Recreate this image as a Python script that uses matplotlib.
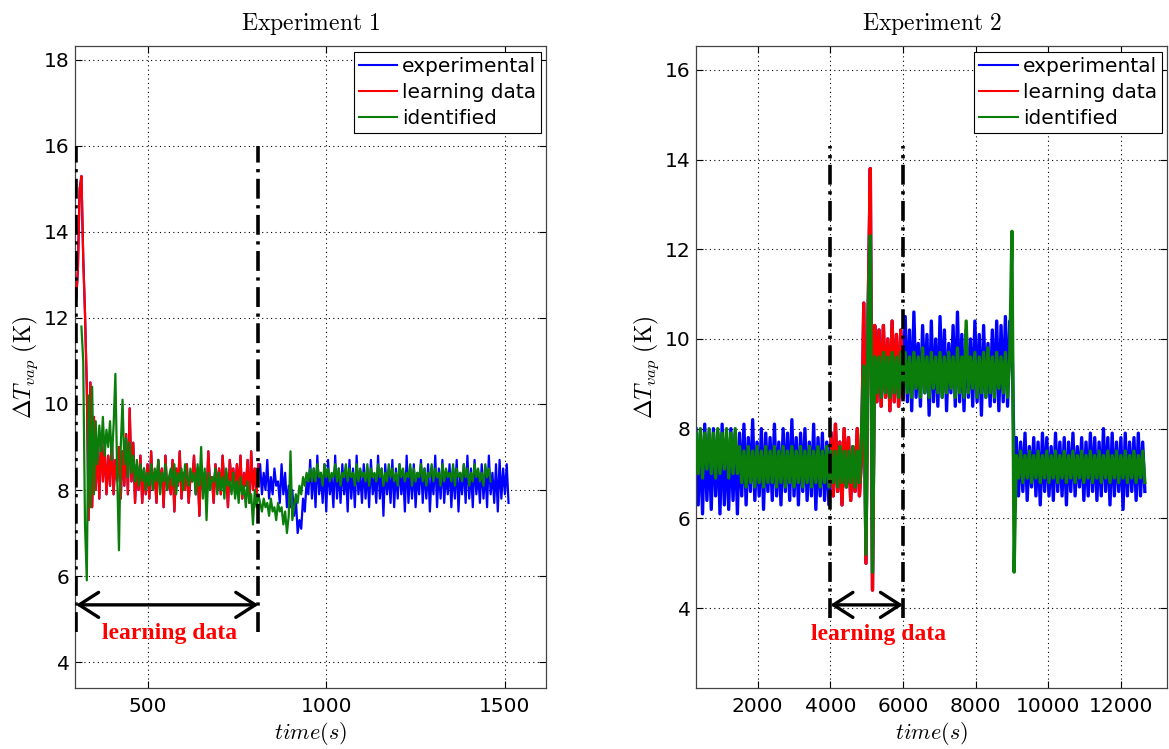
import numpy as np
import matplotlib
matplotlib.use("Agg")
import matplotlib.pyplot as plt
from matplotlib.lines import Line2D

plt.rcParams["mathtext.fontset"] = "cm"
plt.rcParams["font.family"] = "DejaVu Sans"

# ---------------- data ----------------
# Experiment 1: samples every 5 s
exp1_meas_start, exp1_step = 300, 5
exp1_meas = [
    12.4, 13.1, 15.0, 15.3, 13.4, 12.1, 10.4, 7.3, 10.5, 7.6,
    9.7, 8.0, 9.1, 7.8, 9.3, 8.2, 9.0, 7.9, 8.8, 8.1,
    9.2, 7.9, 8.7, 8.2, 9.0, 7.8, 8.9, 8.1, 9.3, 7.9,
    9.9, 8.2, 9.1, 7.7, 8.6, 8.0, 8.8, 7.7, 8.5, 7.9,
    8.6, 7.8, 8.9, 8.0, 8.4, 7.7, 8.7, 8.1, 8.5, 7.6,
    8.8, 8.0, 8.3, 7.9, 8.7, 7.5, 8.5, 8.1, 8.9, 7.8,
    8.4, 8.0, 8.6, 7.7, 8.3, 8.2, 8.8, 7.9, 8.5, 7.4,
    8.6, 8.0, 8.4, 7.8, 8.9, 8.1, 8.3, 7.7, 8.6, 8.0,
    8.5, 7.9, 8.8, 8.1, 8.4, 7.6, 8.7, 8.2, 8.5, 7.9,
    8.6, 8.0, 8.8, 7.8, 8.4, 8.1, 8.7, 7.7, 8.9, 8.0,
    8.5, 7.9, 8.6, 8.6, 7.9, 8.4, 8.0, 8.7, 7.8, 8.3,
    7.9, 8.5, 8.1, 8.2, 7.7, 8.6, 7.9, 8.4, 7.6, 8.1,
    7.6, 8.0, 7.4, 7.8, 7.0, 7.3, 7.1, 7.8, 7.5, 8.2,
    7.9, 8.7, 7.8, 8.5, 7.6, 8.8, 7.9, 8.4, 7.7, 8.6,
    7.5, 8.7, 7.9, 8.3, 7.6, 8.8, 7.8, 8.5, 7.7, 8.6,
    7.9, 8.4, 7.5, 8.7, 7.8, 8.5, 7.6, 8.8, 7.9, 8.4,
    7.7, 8.6, 7.8, 8.5, 7.6, 8.7, 7.9, 8.3, 7.7, 8.8,
    7.8, 8.5, 7.4, 8.6, 7.9, 8.4, 7.7, 8.7, 7.6, 8.5,
    7.8, 8.6, 7.9, 8.4, 7.5, 8.8, 7.7, 8.5, 7.8, 8.6,
    7.6, 8.4, 7.9, 8.7, 7.7, 8.5, 7.8, 8.6, 7.5, 8.4,
    7.9, 8.8, 7.6, 8.5, 7.8, 8.7, 7.7, 8.4, 7.9, 8.6,
    7.6, 8.5, 7.8, 8.7, 7.5, 8.4, 7.9, 8.6, 7.7, 8.8,
    7.8, 8.5, 7.6, 8.7, 7.9, 8.4, 7.7, 8.6, 7.8, 8.5,
    7.6, 8.8, 7.9, 8.4, 7.7, 8.6, 7.5, 8.7, 7.8, 8.5,
    7.9, 8.6, 7.7,
]
exp1_ident_start = 315
exp1_ident = [
    11.8, 11.0, 7.2, 5.9, 10.2, 7.6, 10.4, 7.9, 9.6, 8.6,
    9.5, 8.9, 9.7, 8.8, 9.4, 9.0, 9.6, 8.7, 9.5, 10.7,
    8.4, 6.6, 9.0, 10.1, 8.6, 9.2, 8.3, 9.1, 8.4, 8.8,
    8.2, 8.7, 8.1, 8.6, 8.2, 8.5, 8.0, 8.4, 8.1, 8.6,
    8.0, 8.5, 8.2, 8.7, 7.9, 8.4, 8.2, 8.6, 8.0, 8.3,
    8.5, 8.1, 8.6, 7.9, 8.4, 8.2, 8.5, 8.0, 8.6, 8.3,
    8.1, 8.5, 8.2, 8.4, 7.9, 8.6, 8.1, 9.0, 7.8, 8.5,
    7.3, 8.4, 8.0, 8.3, 8.2, 8.5, 7.9, 8.4, 8.0, 8.3,
    7.8, 8.5, 8.1, 8.2, 7.9, 8.4, 7.8, 8.2, 7.7, 8.3,
    7.9, 8.1, 7.6, 8.2, 7.7, 7.9, 7.2, 8.0, 7.6, 7.9,
    7.7, 7.5, 7.8, 7.6, 7.7, 7.4, 7.8, 7.5, 7.6, 7.3,
    7.7, 7.5, 7.6, 7.2, 7.5, 7.0, 7.4, 8.9, 7.3, 7.6,
    7.9, 7.7, 8.1, 7.9, 8.3, 8.1, 8.4, 8.2, 8.5, 8.2,
    8.5, 8.2, 8.6, 8.3, 8.4, 8.1, 8.6, 8.3, 8.5, 8.2,
    8.4, 8.3, 8.6, 8.2, 8.5, 8.1, 8.4, 8.3, 8.6, 8.2,
    8.5, 8.3, 8.4, 8.1, 8.6, 8.2, 8.5, 8.3, 8.4, 8.2,
    8.6, 8.1, 8.5, 8.3, 8.4, 8.2, 8.6, 8.3, 8.5, 8.1,
    8.4, 8.2, 8.6, 8.3, 8.5, 8.2, 8.4, 8.1, 8.6, 8.3,
    8.5, 8.2, 8.4, 8.3, 8.6, 8.1, 8.5, 8.2, 8.4, 8.3,
    8.6, 8.2, 8.5, 8.1, 8.4, 8.3, 8.6, 8.2, 8.5, 8.3,
    8.4, 8.1, 8.6, 8.2, 8.5, 8.3, 8.4, 8.2, 8.6, 8.1,
    8.5, 8.3, 8.4, 8.2, 8.6, 8.3, 8.5, 8.1, 8.4, 8.2,
    8.6, 8.3, 8.5, 8.2, 8.4, 8.1, 8.6, 8.3, 8.5, 8.2,
]
exp1_window = (300, 810)

# Experiment 2: samples every 60 s
exp2_start, exp2_step = 300, 60
exp2_meas = [
    8.0, 6.3, 7.9, 6.1, 8.1, 6.4, 7.8, 6.2, 8.0, 6.5,
    7.9, 6.1, 8.1, 6.3, 7.8, 6.2, 8.0, 6.4, 7.9, 6.1,
    7.9, 6.5, 8.1, 6.3, 7.8, 6.6, 8.2, 6.4, 7.7, 6.5,
    8.0, 6.2, 7.9, 6.6, 7.8, 6.4, 8.1, 6.5, 7.7, 6.3,
    8.0, 6.6, 7.9, 6.4, 8.2, 6.5, 7.8, 6.3, 7.9, 6.6,
    8.0, 6.4, 7.7, 6.5, 8.1, 6.2, 7.8, 6.5, 7.9, 6.4,
    7.7, 6.3, 7.9, 6.5, 8.1, 6.6, 7.7, 6.3, 8.0, 6.7,
    7.8, 6.4, 7.6, 6.6, 8.0, 6.5, 7.4, 10.8, 5.0, 10.6,
    13.8, 4.4, 10.3, 8.6, 10.2, 8.5, 10.3, 8.7, 10.0, 8.4,
    10.4, 8.6, 10.1, 8.5, 10.2, 8.7, 10.5, 8.6, 10.2, 8.4,
    10.6, 8.7, 9.9, 8.5, 10.3, 8.8, 10.1, 8.3, 10.4, 8.6,
    10.0, 8.5, 10.5, 8.7, 10.2, 8.4, 9.9, 8.8, 10.3, 8.5,
    10.6, 8.6, 10.1, 8.4, 10.2, 8.7, 10.0, 8.5, 10.4, 8.6,
    10.1, 8.3, 10.3, 8.7, 9.9, 8.5, 10.2, 8.6, 10.4, 8.4,
    10.3, 8.6, 10.5, 8.5, 10.4, 10.2, 7.2, 7.8, 6.5, 7.7,
    6.6, 7.9, 6.4, 7.6, 6.7, 7.8, 6.5, 7.7, 6.3, 7.9,
    6.6, 7.8, 6.5, 7.6, 6.4, 7.9, 6.6, 7.7, 6.5, 7.8,
    6.3, 7.7, 6.6, 7.9, 6.5, 7.6, 6.7, 7.8, 6.4, 7.7,
    6.5, 7.9, 6.6, 7.8, 6.4, 7.7, 6.5, 8.0, 6.6, 7.8,
    6.3, 7.9, 6.5, 7.7, 6.6, 7.8, 6.2, 7.9, 6.5, 7.7,
    6.6, 7.8, 6.4, 7.9, 6.5, 7.7, 6.6,
]
exp2_ident = [
    7.9, 7.0, 8.0, 6.9, 7.9, 7.1, 8.0, 7.0, 7.9, 6.9,
    8.0, 7.0, 7.9, 7.1, 8.0, 6.9, 7.9, 7.0, 8.0, 7.0,
    7.6, 6.8, 7.5, 6.7, 7.6, 6.8, 7.5, 6.7, 7.6, 6.8,
    7.5, 6.7, 7.6, 6.8, 7.5, 6.8, 7.6, 6.7, 7.5, 6.8,
    7.6, 6.7, 7.5, 6.8, 7.6, 6.7, 7.5, 6.8, 7.6, 6.7,
    7.5, 6.8, 7.6, 6.7, 7.5, 6.8, 7.6, 6.7, 7.5, 6.8,
    7.6, 6.7, 7.5, 6.8, 7.5, 6.7, 7.6, 6.8, 7.5, 6.7,
    7.5, 6.8, 7.6, 6.7, 7.5, 6.8, 8.0, 9.4, 5.2, 10.5,
    12.3, 4.8, 9.6, 8.8, 9.6, 8.7, 9.7, 8.8, 9.6, 8.7,
    9.7, 8.8, 9.6, 8.7, 9.7, 8.8, 9.7, 8.8, 9.6, 8.7,
    9.7, 8.9, 9.6, 8.7, 9.8, 8.8, 9.6, 8.7, 9.7, 8.9,
    9.6, 8.8, 9.7, 8.7, 9.6, 8.8, 9.7, 8.9, 9.6, 8.7,
    9.8, 8.8, 9.6, 8.7, 10.4, 8.8, 9.6, 8.9, 9.7, 8.7,
    9.6, 8.8, 9.7, 8.7, 9.8, 8.8, 9.6, 8.7, 9.7, 8.9,
    9.6, 8.8, 9.7, 8.7, 9.6, 12.4, 4.8, 7.4, 6.9, 7.5,
    6.8, 7.4, 6.9, 7.5, 6.8, 7.4, 6.9, 7.5, 6.8, 7.4,
    6.9, 7.5, 6.8, 7.4, 6.9, 7.5, 6.8, 7.4, 6.9, 7.5,
    6.8, 7.4, 6.9, 7.5, 6.8, 7.4, 6.9, 7.5, 6.8, 7.4,
    6.9, 7.5, 6.8, 7.4, 6.9, 7.5, 6.8, 7.4, 6.9, 7.5,
    6.8, 7.4, 6.9, 7.5, 6.8, 7.4, 6.9, 7.5, 6.8, 7.4,
    6.9, 7.5, 6.8, 7.4, 6.9, 7.5, 6.8,
]
exp2_window = (4000, 6000)

labels = ["experimental", "learning data", "identified"]
BLUE, RED, GREEN = "#0000ff", "#ff0000", "#0a7d0a"


def plot_panel(ax, t_meas, meas, t_id, ident, window, xlim, ylim, xticks, yticks,
               title, vtop, vbot, arrow_y, text_xy, lw):
    t_meas = np.asarray(t_meas); meas = np.asarray(meas)
    ax.plot(t_meas, meas, color=BLUE, lw=lw, zorder=2)
    m = (t_meas >= window[0] - 10) & (t_meas <= window[1] + 1)
    ax.plot(t_meas[m], meas[m], color=RED, lw=lw, zorder=3)
    ax.plot(t_id, ident, color=GREEN, lw=lw, zorder=4)

    for xv in window:
        ax.plot([xv, xv], [vbot, vtop], color="k", lw=2.6,
                linestyle=(0, (5.5, 1.8, 0.9, 1.8)), zorder=6)
    ax.annotate("", xy=(window[1], arrow_y), xytext=(window[0], arrow_y), zorder=7,
                arrowprops=dict(arrowstyle="<->,head_length=0.7,head_width=0.45",
                                color="k", lw=2.4, shrinkA=0, shrinkB=0,
                                mutation_scale=20))
    ax.text(text_xy[0], text_xy[1], "learning data", color=RED, fontsize=17,
            fontweight="bold", family="Liberation Serif", ha="center", va="center",
            zorder=8)

    ax.set_xlim(*xlim); ax.set_ylim(*ylim)
    ax.set_xticks(xticks); ax.set_yticks(yticks)
    ax.grid(True, color="k", lw=0.8, linestyle=(0, (1, 3)))
    ax.set_axisbelow(True)
    ax.tick_params(direction="in", top=True, right=True, length=5, width=0.8,
                   labelsize=14.5)
    ax.tick_params(axis="x", pad=6)
    ax.tick_params(axis="y", pad=4)
    for s in ax.spines.values():
        s.set_color("#444"); s.set_linewidth(0.9)
    ax.set_title(r"$\mathrm{" + title.replace(" ", r"\ ") + "}$", fontsize=17, pad=11)
    ax.set_xlabel(r"$time(s)$", fontsize=16, labelpad=3)
    ax.set_ylabel(r"$\Delta T_{vap}\ \mathrm{(K)}$", fontsize=17, labelpad=3)

    handles = [Line2D([], [], color=c, lw=1.5) for c in (BLUE, RED, GREEN)]
    leg = ax.legend(handles, labels, loc="upper right", bbox_to_anchor=(0.989, 0.99),
                    borderaxespad=0, fontsize=14.5, fancybox=False, framealpha=1,
                    edgecolor="k", handlelength=1.9, handletextpad=0.25,
                    labelspacing=0.35, borderpad=0.25)
    leg.get_frame().set_linewidth(0.8)
    leg.set_zorder(10)


fig = plt.figure(figsize=(11.69, 7.49), dpi=100)
ax1 = fig.add_axes([75 / 1169, 1 - 688.3 / 749, 471.4 / 1169, 642.6 / 749])
ax2 = fig.add_axes([696 / 1169, 1 - 688.3 / 749, 471 / 1169, 642.6 / 749])

t1 = exp1_meas_start + exp1_step * np.arange(len(exp1_meas))
t1i = exp1_ident_start + exp1_step * np.arange(len(exp1_ident))
plot_panel(ax1, t1, exp1_meas, t1i, exp1_ident, exp1_window,
           (297, 1616), (3.39, 18.33), [500, 1000, 1500], range(4, 19, 2),
           "Experiment 1", 16.0, 4.7, 5.33, (561, 4.67), 1.6)

t2 = exp2_start + exp2_step * np.arange(len(exp2_meas))
t2i = exp2_start + exp2_step * np.arange(len(exp2_ident))
plot_panel(ax2, t2, exp2_meas, t2i, exp2_ident, exp2_window,
           (300, 13270), (2.21, 16.54), range(2000, 12001, 2000), range(4, 17, 2),
           "Experiment 2", 14.3, 3.78, 4.07, (5320, 3.42), 2.4)

fig.savefig("out.png", dpi=100)
